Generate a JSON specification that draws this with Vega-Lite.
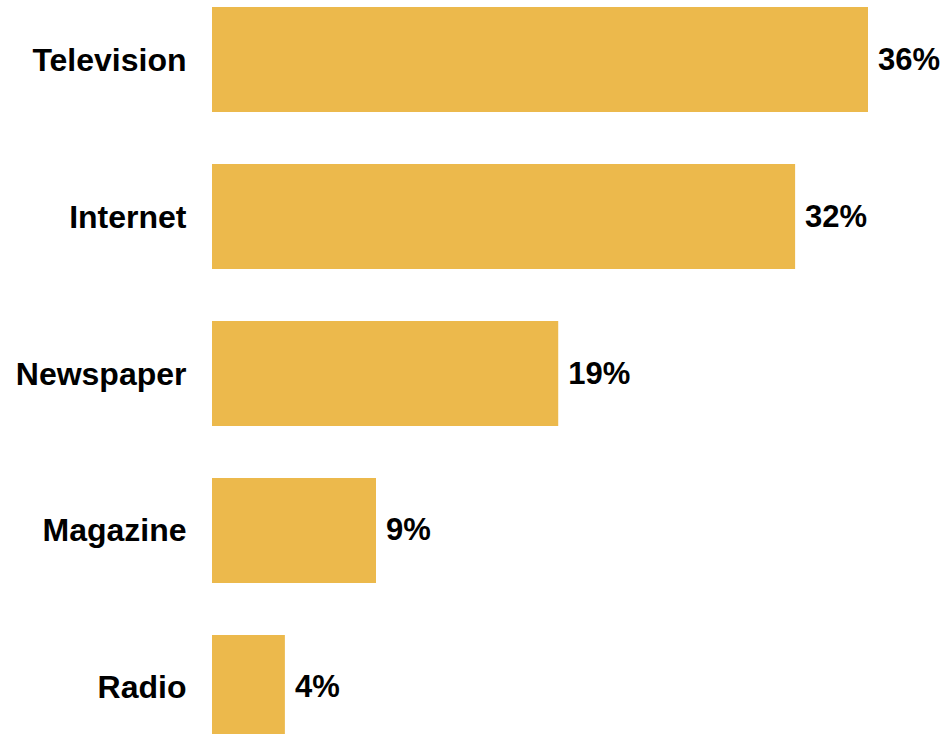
{
  "$schema": "https://vega.github.io/schema/vega-lite/v6.json",
  "autosize": {"type": "none"},
  "padding": {"left": 212, "top": 0, "right": 77, "bottom": 0},
  "width": 656,
  "height": 747,
  "background": "white",
  "config": {"view": {"stroke": null}},
  "data": {"values": [
    {"medium": "Television", "share": 0.36},
    {"medium": "Internet", "share": 0.32},
    {"medium": "Newspaper", "share": 0.19},
    {"medium": "Magazine", "share": 0.09},
    {"medium": "Radio", "share": 0.04}
  ]},
  "encoding": {
    "y": {"field": "medium", "type": "nominal", "sort": null,
      "scale": {"paddingInner": 0.331, "paddingOuter": 0.0446},
      "axis": {"title": null, "ticks": false, "domain": false, "labelPadding": 26, "labelOffset": 1,
        "labelFont": "Liberation Sans", "labelFontWeight": "bold", "labelFontSize": 32, "labelColor": "#000000"}},
    "x": {"field": "share", "type": "quantitative", "scale": {"domain": [0, 0.36], "nice": false}, "axis": null}
  },
  "layer": [
    {"mark": {"type": "bar", "color": "#ECB94C"}},
    {"mark": {"type": "text", "align": "left", "baseline": "middle", "dx": 10, "dy": 1, "font": "Liberation Sans", "fontWeight": "bold", "fontSize": 31, "color": "#000000"},
     "encoding": {"text": {"field": "share", "type": "quantitative", "format": ".0%"}}}
  ]
}
